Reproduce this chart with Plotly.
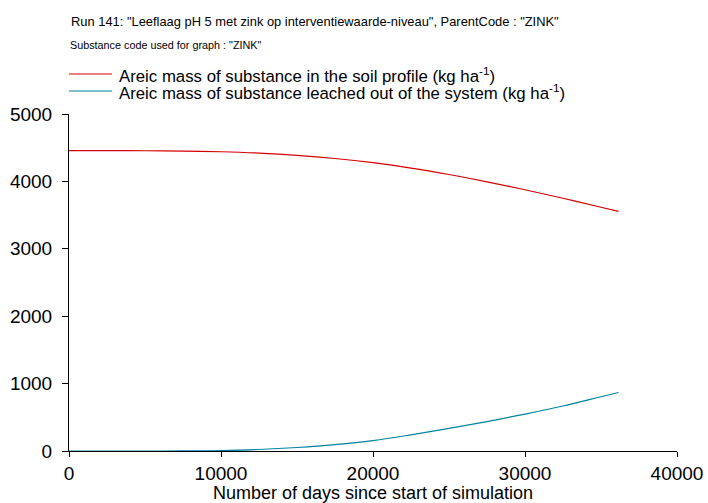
import plotly.graph_objects as go

days = [0, 2500, 5000, 7500, 10000, 12500, 15000, 17500, 20000, 22500, 25000,
        27500, 30000, 32500, 35000, 36150]
soil_profile = [4458, 4457, 4455, 4450, 4440, 4420, 4387, 4340, 4278, 4198, 4102,
                3994, 3876, 3750, 3616, 3556]
leached = [0, 0, 0, 1, 5, 22, 52, 95, 155, 240, 335, 437, 548, 668, 805, 868]

x_ticks = [0, 10000, 20000, 30000, 40000]
y_ticks = [0, 1000, 2000, 3000, 4000, 5000]

title = 'Run 141: "Leeflaag pH 5 met zink op interventiewaarde-niveau", ParentCode : "ZINK"'
subtitle = 'Substance code used for graph : "ZINK"'
name_soil = "Areic mass of substance in the soil profile (kg ha<sup>-1</sup>)"
name_leach = "Areic mass of substance leached out of the system (kg ha<sup>-1</sup>)"
x_title = "Number of days since start of simulation"

COLORS = ["#d40000", "#00839c"]
FONT = "Liberation Sans, Arial, sans-serif"

W, H = 708, 503
ML, MR, MT, MB = 69, 31, 114, 52
pw = W - ML - MR
ph = H - MT - MB


def px(xp):
    return (xp - ML) / pw


def py(yp):
    return (H - MB - yp) / ph


fig = go.Figure()
fig.add_trace(go.Scatter(x=days, y=soil_profile, mode="lines", name=name_soil,
                         line=dict(color=COLORS[0], width=1.2, shape="spline")))
fig.add_trace(go.Scatter(x=days, y=leached, mode="lines", name=name_leach,
                         line=dict(color=COLORS[1], width=1.2, shape="spline")))

annotations = [
    dict(text=title, x=px(69), y=py(22), xanchor="left", yanchor="middle",
         font=dict(size=12.9, family=FONT)),
    dict(text=subtitle, x=px(68), y=py(45), xanchor="left", yanchor="middle",
         font=dict(size=10.8, family=FONT)),
]
shapes = []
legend_rows = [(name_soil, COLORS[0], 74), (name_leach, COLORS[1], 91)]
for name, color, yrow in legend_rows:
    shapes.append(dict(type="line", xref="paper", yref="paper",
                       x0=px(69), x1=px(112), y0=py(yrow), y1=py(yrow),
                       line=dict(color=color, width=1)))
    annotations.append(dict(text=name, x=px(117), y=py(yrow + 1), xanchor="left",
                            yanchor="middle", font=dict(size=16.8, family=FONT)))
for a in annotations:
    a.update(xref="paper", yref="paper", showarrow=False)

fig.update_layout(
    width=W, height=H,
    margin=dict(l=ML, r=MR, t=MT, b=MB, autoexpand=False),
    paper_bgcolor="white", plot_bgcolor="white",
    font=dict(family=FONT, color="black"),
    showlegend=False,
    xaxis=dict(range=[0, 40000], tickvals=x_ticks, ticktext=[str(v) for v in x_ticks],
               showgrid=False, zeroline=False, showline=True, linecolor="black",
               linewidth=1, ticks="outside", ticklen=5, tickcolor="black",
               tickfont=dict(size=19, family=FONT),
               title=dict(text=x_title, font=dict(size=18, family=FONT), standoff=2)),
    yaxis=dict(range=[0, 5000], tickvals=y_ticks, ticktext=[str(v) for v in y_ticks],
               showgrid=False, zeroline=False, showline=True, linecolor="black",
               linewidth=1, ticks="outside", ticklen=6, tickcolor="black",
               ticklabelstandoff=6,
               tickfont=dict(size=19, family=FONT)),
    annotations=annotations,
    shapes=shapes,
)

fig.write_html("out.html",
               config={"displayModeBar": False},
               post_script="document.body.style.margin='0px';"
                           "document.body.style.overflow='hidden';")
